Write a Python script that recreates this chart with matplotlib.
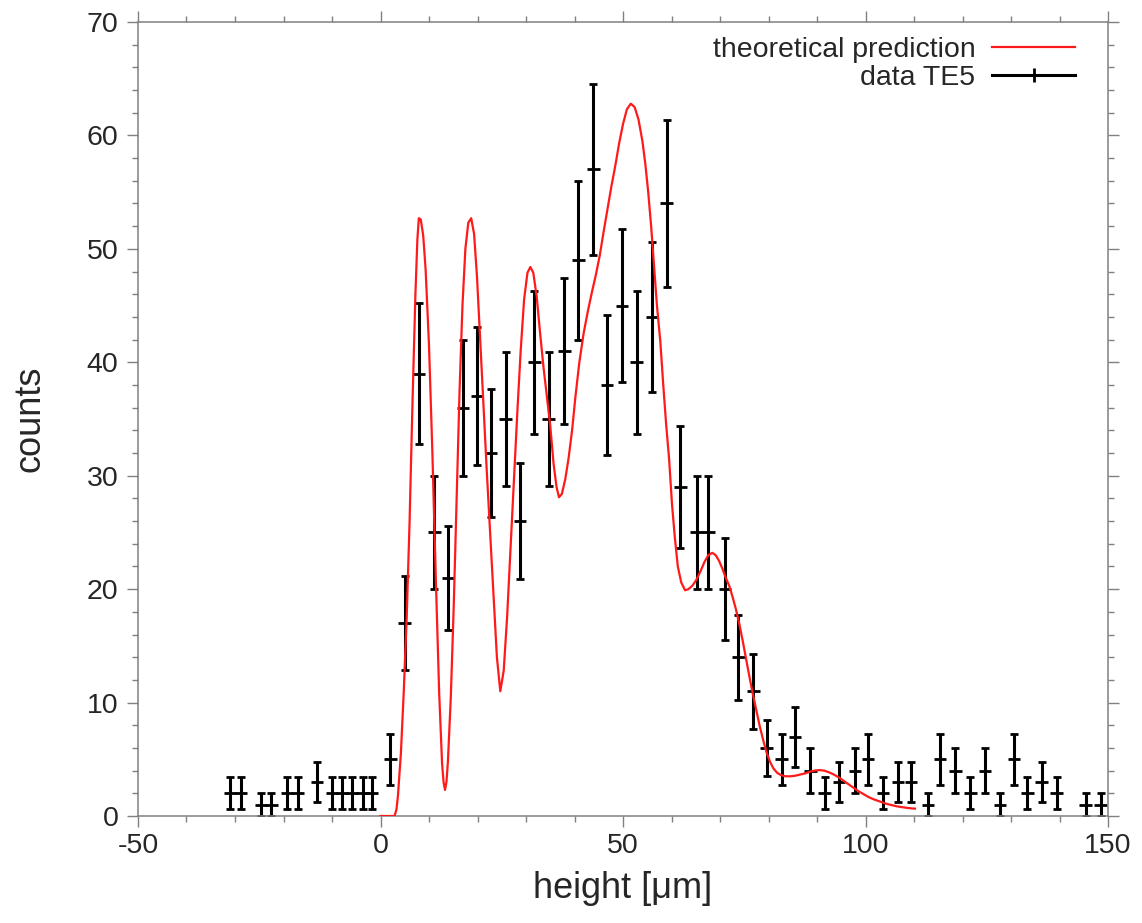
import numpy as np
import matplotlib
matplotlib.use("Agg")
import matplotlib.pyplot as plt
from matplotlib.lines import Line2D
from matplotlib.ticker import MultipleLocator

plt.rcParams['font.family'] = ['Liberation Sans', 'DejaVu Sans']
plt.rcParams['axes.unicode_minus'] = False

# Measured histogram (bin centre in micrometres, counts per bin)
height = [-31.0, -28.8, -24.6, -22.5, -19.3, -17.0, -13.1, -10.0, -7.9, -5.9,
          -3.7, -1.8, 2.0, 5.0, 7.9, 11.1, 13.9, 17.0, 19.9, 22.8,
          25.8, 28.8, 31.7, 34.7, 37.9, 40.8, 43.9, 46.7, 49.8, 52.8,
          56.0, 59.0, 61.8, 65.2, 67.6, 71.0, 73.8, 76.9, 79.6, 82.7,
          85.5, 88.6, 91.6, 94.5, 97.8, 100.5, 103.6, 106.7, 109.4, 112.9,
          115.4, 118.5, 121.6, 124.6, 127.7, 130.6, 133.4, 136.3, 139.4, 145.4,
          148.5]
counts = [2, 2, 1, 1, 2, 2, 3, 2, 2, 2,
          2, 2, 5, 17, 39, 25, 21, 36, 37, 32,
          35, 26, 40, 35, 41, 49, 57, 38, 45, 40,
          44, 54, 29, 25, 25, 20, 14, 11, 6, 5,
          7, 4, 2, 3, 4, 5, 2, 3, 3, 1,
          5, 4, 2, 4, 1, 5, 2, 3, 2, 1,
          1]
height_halfwidth = 1.3

# Theoretical prediction curve
theory_height = [0.0, 2.9, 3.3, 3.6, 4.2, 4.8, 5.4, 6.0, 6.6, 7.2,
                 7.6, 7.9, 8.3, 8.8, 9.3, 10.0, 10.7, 11.4, 12.1, 12.7,
                 13.0, 13.3, 13.6, 13.9, 14.5, 15.1, 15.7, 16.3, 16.9, 17.5,
                 18.1, 18.7, 19.3, 19.9, 20.5, 21.2, 21.9, 22.6, 23.3, 24.0,
                 24.7, 25.4, 26.1, 26.8, 27.5, 28.2, 28.9, 29.6, 30.3, 30.9,
                 31.5, 32.2, 32.9, 33.6, 34.3, 35.0, 35.7, 36.3, 36.8, 37.4,
                 38.1, 38.8, 39.5, 40.2, 41.0, 41.9, 42.8, 43.6, 44.4, 45.2,
                 46.0, 46.8, 47.6, 48.4, 49.2, 50.0, 50.8, 51.6, 52.4, 53.2,
                 54.0, 54.6, 55.2, 55.8, 56.4, 57.0, 57.7, 58.3, 58.9, 59.5,
                 60.1, 60.7, 61.3, 62.0, 62.8, 63.5, 64.3, 65.1, 66.0, 66.8,
                 67.6, 68.4, 69.1, 69.8, 70.5, 71.2, 71.9, 72.6, 73.3, 74.0,
                 74.7, 75.4, 76.1, 76.8, 77.5, 78.2, 78.9, 79.6, 80.3, 81.0,
                 81.8, 82.6, 83.5, 84.5, 85.5, 86.5, 87.5, 88.5, 89.5, 90.5,
                 91.5, 92.5, 93.5, 94.5, 95.5, 96.5, 97.5, 98.5, 99.5, 100.5,
                 101.5, 102.5, 103.5, 104.5, 105.5, 106.5, 107.5, 108.5, 109.5, 110.2]
theory_counts = [0.0, 0.0, 0.6, 1.8, 5.5, 11.0, 17.5, 26.0, 36.5, 46.0,
                 50.8, 52.7, 52.6, 51.2, 48.2, 41.5, 32.0, 21.0, 10.8, 4.6,
                 3.0, 2.3, 3.0, 4.8, 10.5, 18.5, 28.0, 37.5, 45.0, 50.0,
                 52.3, 52.7, 51.3, 47.5, 42.5, 36.5, 30.5, 25.0, 19.5, 14.0,
                 11.0, 12.8, 17.5, 23.5, 29.5, 35.5, 41.0, 45.5, 47.9, 48.4,
                 47.9, 45.8, 42.6, 39.6, 37.0, 34.4, 31.0, 29.0, 28.1, 28.4,
                 29.7, 31.6, 34.0, 37.0, 40.0, 42.6, 44.6, 46.2, 47.7, 49.4,
                 51.5, 53.5, 55.5, 57.3, 59.3, 61.0, 62.3, 62.8, 62.5, 61.4,
                 59.5, 57.5, 55.0, 52.0, 48.5, 45.0, 41.8, 38.0, 34.5, 31.5,
                 27.5, 24.5, 22.0, 20.6, 19.9, 20.0, 20.3, 20.8, 21.6, 22.4,
                 23.0, 23.2, 23.0, 22.5, 21.8, 21.0, 20.3, 19.3, 18.2, 16.9,
                 15.4, 13.8, 12.2, 10.7, 9.3, 7.9, 6.7, 5.6, 4.8, 4.2,
                 3.8, 3.6, 3.5, 3.5, 3.55, 3.65, 3.75, 3.9, 4.0, 4.05,
                 4.0, 3.85, 3.65, 3.4, 3.1, 2.8, 2.5, 2.2, 1.95, 1.7,
                 1.5, 1.35, 1.2, 1.05, 0.95, 0.85, 0.78, 0.72, 0.67, 0.65]

x_ticks = [-50, 0, 50, 100, 150]
y_ticks = [0, 10, 20, 30, 40, 50, 60, 70]

TEXT = '#262626'
AXIS = '#808080'
RED = '#ff1a1a'

fig = plt.figure(figsize=(11.42, 9.23), dpi=100)
ax = fig.add_axes([138 / 1142, 1 - 816 / 923, 970 / 1142, 794 / 923])

ax.plot(theory_height, theory_counts, color=RED, lw=1.6, zorder=3,
        solid_joinstyle='round')

# Poisson errors on the counts
cnt = np.asarray(counts, dtype=float)
ax.errorbar(height, counts, yerr=np.sqrt(cnt), fmt='none', ecolor='black',
            elinewidth=2.2, capsize=3.2, capthick=2.0, zorder=2)
ax.errorbar(height, counts, xerr=height_halfwidth, fmt='none', ecolor='black',
            elinewidth=2.0, capsize=0, zorder=2)

ax.set_xlim(x_ticks[0], x_ticks[-1])
ax.set_ylim(y_ticks[0], y_ticks[-1])
ax.set_xticks(x_ticks)
ax.set_yticks(y_ticks)
ax.xaxis.set_minor_locator(MultipleLocator(10))
ax.yaxis.set_minor_locator(MultipleLocator(2))

for sp in ax.spines.values():
    sp.set_color(AXIS)
    sp.set_linewidth(1.1)

ax.tick_params(which='both', direction='out', top=True, right=True,
               color=AXIS, width=1.0, labelcolor=TEXT, labelsize=20.5)
ax.tick_params(which='major', length=8, pad=4)
ax.tick_params(axis='y', which='major', pad=6)
ax.tick_params(which='minor', length=4)

ax.set_xlabel('height [\u03bcm]', fontsize=26, color=TEXT, labelpad=9)
ax.set_ylabel('counts', fontsize=26, color=TEXT, labelpad=28)

handles = [Line2D([], [], color=RED, lw=1.6),
           Line2D([], [], color='black', lw=2.2, marker='|', markersize=10,
                  markeredgewidth=2.0)]
ax.legend(handles, ['theoretical prediction', 'data TE5'], loc='upper right',
          bbox_to_anchor=(1 - 33 / 970, 1 - 15 / 794), borderaxespad=0,
          borderpad=0, frameon=False, markerfirst=False, fontsize=20.5,
          handlelength=2.9, handletextpad=0.6, labelspacing=0.08,
          labelcolor=TEXT, numpoints=1)

fig.savefig('out.png', dpi=100, facecolor='white')
